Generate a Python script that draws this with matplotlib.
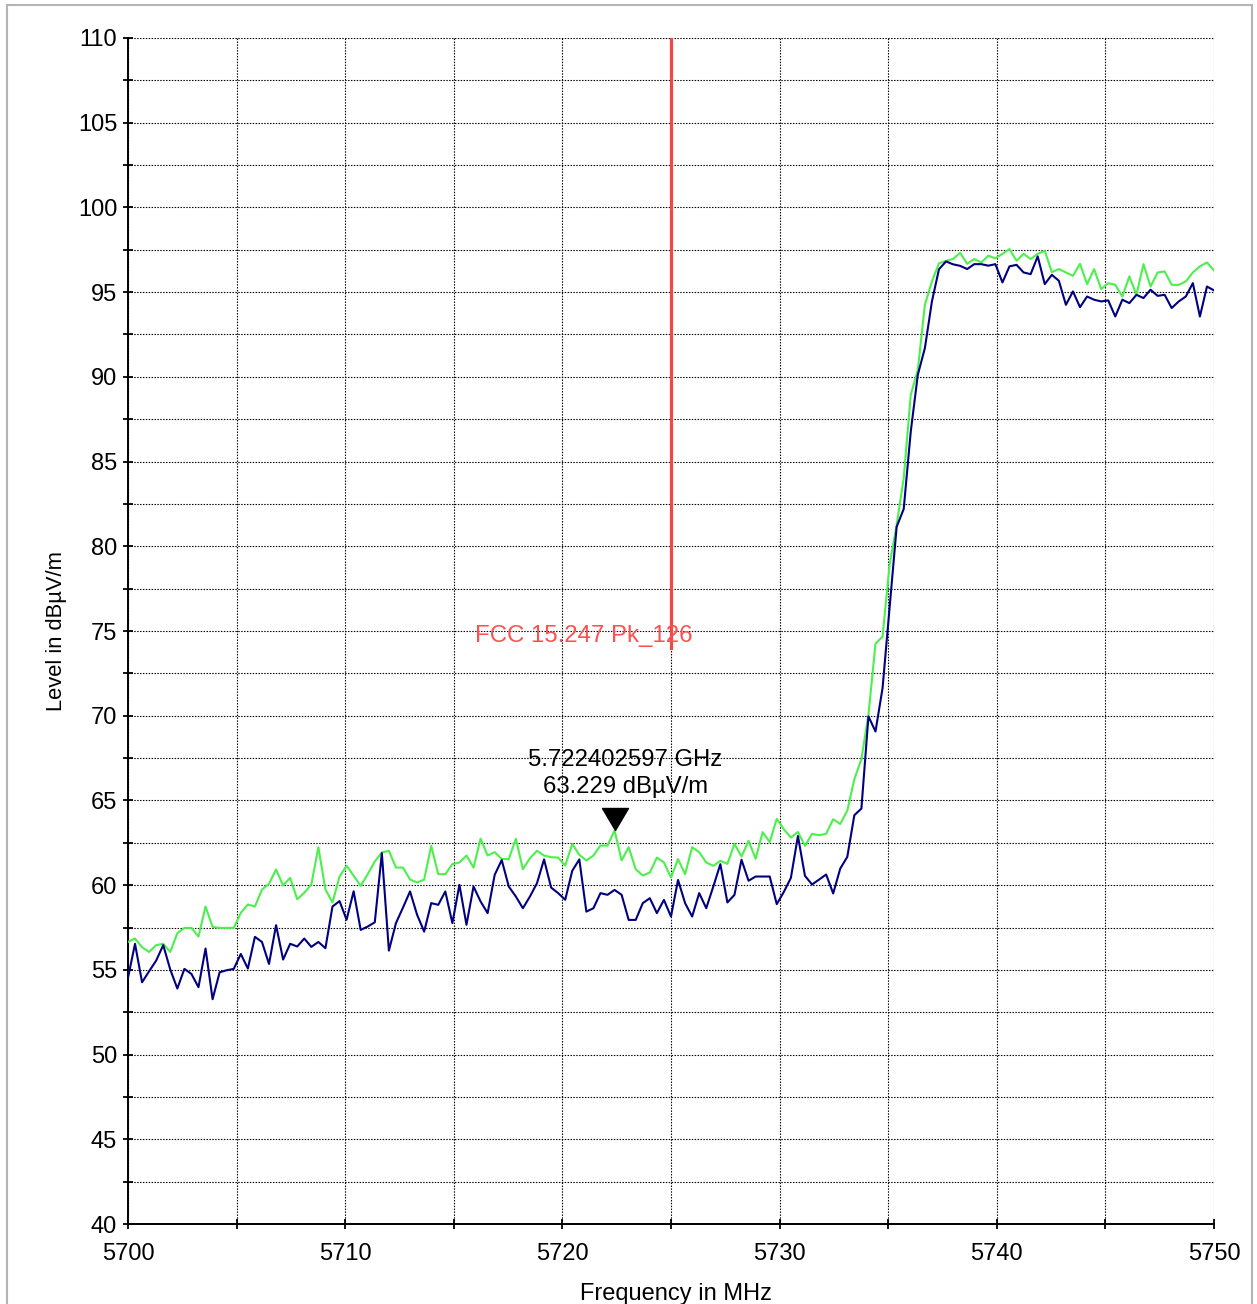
import numpy as np
import matplotlib
matplotlib.use('Agg')
import matplotlib.pyplot as plt
from matplotlib.ticker import MultipleLocator
from matplotlib.patches import Rectangle

plt.rcParams['font.family'] = ['Liberation Sans', 'DejaVu Sans']

# sweep: 155 points from 5700 to 5750 MHz
f_start = 5700.0
f_stop = 5750.0
n_pts = 155

# peak trace (green)
level_pk = [
    56.65, 56.85, 56.34, 56.06, 56.46, 56.54, 56.06, 57.17, 57.48, 57.48,
    56.97, 58.74, 57.54, 57.48, 57.48, 57.48, 58.37, 58.86, 58.74, 59.74,
    60.08, 60.93, 59.98, 60.43, 59.17, 59.55, 60.04, 62.24, 59.74, 58.98,
    60.50, 61.15, 60.55, 59.96, 60.65, 61.40, 61.93, 62.03, 61.04, 61.04,
    60.33, 60.16, 60.33, 62.32, 60.65, 60.65, 61.24, 61.34, 61.75, 61.04,
    62.74, 61.75, 61.95, 61.54, 61.54, 62.74, 60.94, 61.59, 62.03, 61.75,
    61.65, 61.63, 61.16, 62.43, 61.79, 61.46, 61.75, 62.34, 62.34, 63.229,
    61.46, 62.24, 60.94, 60.57, 60.75, 61.63, 61.34, 60.45, 61.54, 60.65,
    62.24, 61.95, 61.34, 61.14, 61.44, 61.26, 62.44, 61.69, 62.62, 61.56,
    63.13, 62.54, 63.92, 63.30, 62.81, 63.14, 62.32, 63.03, 62.95, 63.03,
    63.89, 63.61, 64.40, 66.25, 67.45, 70.06, 74.25, 74.67, 78.92, 81.27,
    84.02, 88.94, 90.41, 94.25, 95.63, 96.70, 96.84, 96.96, 97.32, 96.67,
    96.95, 96.75, 97.15, 96.99, 97.26, 97.54, 96.85, 97.26, 96.95, 97.26,
    97.44, 96.18, 96.36, 96.16, 95.96, 96.67, 95.47, 96.36, 95.18, 95.53,
    95.43, 94.74, 95.93, 94.84, 96.65, 95.33, 96.16, 96.22, 95.43, 95.43,
    95.63, 96.16, 96.52, 96.75, 96.28,
]

# second trace (navy)
level_av = [
    54.53, 56.54, 54.27, 54.92, 55.55, 56.46, 55.02, 53.90, 55.06, 54.76,
    53.98, 56.26, 53.27, 54.86, 54.98, 55.06, 55.94, 55.08, 56.95, 56.65,
    55.35, 57.64, 55.61, 56.54, 56.38, 56.85, 56.36, 56.65, 56.28, 58.74,
    59.06, 57.96, 59.64, 57.36, 57.56, 57.81, 61.89, 56.14, 57.76, 58.68,
    59.63, 58.25, 57.26, 58.94, 58.84, 59.63, 57.76, 60.02, 57.66, 59.92,
    59.04, 58.35, 60.61, 61.48, 59.92, 59.33, 58.64, 59.33, 60.12, 61.52,
    59.86, 59.53, 59.14, 60.85, 61.52, 58.44, 58.64, 59.53, 59.43, 59.72,
    59.43, 57.95, 57.95, 58.94, 59.23, 58.35, 59.13, 58.15, 60.31, 58.94,
    58.15, 59.53, 58.64, 59.92, 61.24, 58.98, 59.43, 61.50, 60.26, 60.51,
    60.51, 60.51, 58.88, 59.60, 60.43, 62.90, 60.55, 60.04, 60.33, 60.63,
    59.51, 60.98, 61.67, 64.13, 64.52, 69.96, 69.07, 71.63, 76.36, 81.15,
    82.20, 86.77, 90.12, 91.69, 94.45, 96.35, 96.81, 96.64, 96.55, 96.36,
    96.65, 96.65, 96.56, 96.65, 95.57, 96.52, 96.61, 96.16, 96.06, 97.11,
    95.47, 96.02, 95.67, 94.25, 95.04, 94.11, 94.74, 94.55, 94.45, 94.51,
    93.56, 94.55, 94.35, 94.84, 94.65, 95.14, 94.78, 94.84, 94.06, 94.45,
    94.74, 95.53, 93.56, 95.33, 95.10,
]

limit_name = 'FCC 15.247 Pk_126'
limit_freq = 5725.0
limit_lo = 74.0
limit_hi = 110.0

marker_freq = 5722.402597
marker_level = 63.229

freq = np.linspace(f_start, f_stop, n_pts)

fig = plt.figure(figsize=(12.57, 13.04), dpi=100)
ax = fig.add_axes([0.1018, 0.0613, 0.8640, 0.9096])

ax.plot(freq, level_pk, color='#4cf04c', lw=1.5, zorder=3)
ax.plot(freq, level_av, color='#000080', lw=1.5, zorder=4)

# limit line
ax.plot([limit_freq, limit_freq], [limit_lo, limit_hi], color='#f04848', lw=2.3, zorder=5)
ax.text(limit_freq + 1.0, limit_lo + 0.35, limit_name, color='#ff5050',
        fontsize=17.3, ha='right', va='baseline', zorder=6)

# marker
tri = [(0, 0), (-0.59, 1), (0.59, 1), (0, 0)]
ax.plot([marker_freq], [marker_level], marker=tri, markersize=31.7,
        color='k', linestyle='none', zorder=7)
ax.text(marker_freq + 0.5, marker_level + 1.9,
        '%.9f GHz\n%.3f dBµV/m' % (marker_freq / 1000.0, marker_level),
        fontsize=17.2, ha='center', va='bottom', multialignment='center',
        linespacing=1.3, zorder=7)

ax.set_xlim(f_start, f_stop)
ax.set_ylim(40, 110)
ax.xaxis.set_major_locator(MultipleLocator(10))
ax.xaxis.set_minor_locator(MultipleLocator(5))
ax.yaxis.set_major_locator(MultipleLocator(5))
ax.yaxis.set_minor_locator(MultipleLocator(2.5))

ax.set_axisbelow(True)
ax.grid(True, which='both', color='k', linestyle=(0, (1.3, 1.3)), linewidth=0.8)

for s in ['top', 'right']:
    ax.spines[s].set_visible(False)
for s in ['left', 'bottom']:
    ax.spines[s].set_linewidth(1.4)

ax.tick_params(which='both', direction='inout', length=7.5, width=1.3, labelsize=17)
ax.tick_params(axis='y', pad=4)
ax.tick_params(axis='x', pad=10)

ax.set_xlabel('Frequency in MHz', fontsize=17)
ax.set_ylabel('Level in dBµV/m', fontsize=15.8)
ax.xaxis.set_label_coords(0.505, -0.0495)
ax.yaxis.set_label_coords(-0.056, 0.5)

fig.add_artist(Rectangle((7 / 1257, -0.05), (1252 - 7) / 1257, 1.05 - 5 / 1304,
                         transform=fig.transFigure, fill=False,
                         edgecolor='#b4b4b4', lw=1.5))

fig.savefig('out.png', dpi=100)
